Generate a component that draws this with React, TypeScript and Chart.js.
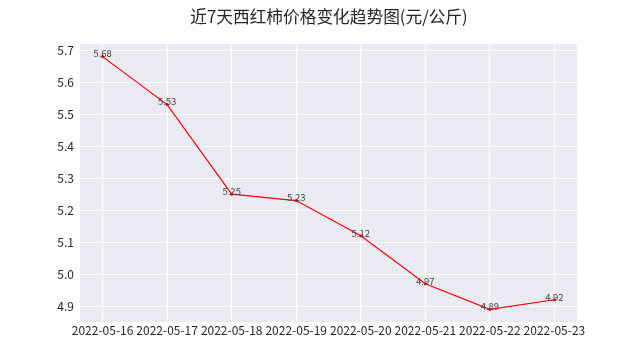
import React, { useEffect, useRef } from "react";
import { Chart, registerables } from "chart.js";

Chart.register(...registerables);

const TITLE = "近7天西红柿价格变化趋势图(元/公斤)";
const dates = ["2022-05-16", "2022-05-17", "2022-05-18", "2022-05-19", "2022-05-20", "2022-05-21", "2022-05-22", "2022-05-23"];
const prices = [5.68, 5.53, 5.25, 5.23, 5.12, 4.97, 4.89, 4.92];
const yTicks = [4.9, 5.0, 5.1, 5.2, 5.3, 5.4, 5.5, 5.6, 5.7];

const FONT = "'Noto Sans CJK SC', 'DejaVu Sans', sans-serif";

export default function App() {
  const ref = useRef<HTMLCanvasElement | null>(null);
  useEffect(() => {
    document.body.style.margin = "0";
    const ctx = ref.current!.getContext("2d")!;
    const lo = Math.min(...prices), hi = Math.max(...prices);
    const m = (hi - lo) * 0.05;
    const n = dates.length - 1;
    const bgPlugin = {
      id: "bg",
      beforeDraw(chart: any) {
        const { ctx, chartArea: a } = chart;
        ctx.save();
        ctx.fillStyle = "#ffffff";
        ctx.fillRect(0, 0, chart.width, chart.height);
        ctx.fillStyle = "#EAEAF2";
        ctx.fillRect(a.left, a.top, a.right - a.left, a.bottom - a.top);
        ctx.restore();
      },
      afterDraw(chart: any) {
        const { ctx } = chart;
        ctx.save();
        ctx.fillStyle = "#262626";
        ctx.font = `16.7px ${FONT}`;
        ctx.textAlign = "center";
        ctx.textBaseline = "middle";
        ctx.fillText(TITLE, 329, 17);
        const meta = chart.getDatasetMeta(0);
        ctx.font = `9.5px ${FONT}`;
        ctx.fillStyle = "#444444";
        ctx.textBaseline = "bottom";
        meta.data.forEach((pt: any, i: number) => {
          ctx.fillText(prices[i].toFixed(2), pt.x, pt.y + 2);
        });
        ctx.restore();
      },
    };
    const chart = new Chart(ctx, {
      type: "line",
      data: {
        datasets: [
          {
            data: prices.map((v, i) => ({ x: i, y: v })),
            borderColor: "#ff0000",
            backgroundColor: "#ff0000",
            borderWidth: 1.2,
            pointRadius: 1.6,
            pointBorderWidth: 0,
            tension: 0,
          },
        ],
      },
      options: {
        animation: false,
        responsive: false,
        layout: { padding: { top: 44, right: 64, left: 0, bottom: 0 } },
        plugins: { legend: { display: false }, tooltip: { enabled: false } },
        scales: {
          x: {
            type: "linear",
            min: -0.35,
            max: n + 0.35,
            afterBuildTicks: (s: any) => {
              s.ticks = dates.map((_, i) => ({ value: i }));
            },
            afterFit: (s: any) => {
              s.height = 39;
            },
            grid: { color: "#ffffff", lineWidth: 1, drawTicks: false },
            border: { display: false },
            ticks: {
              padding: 1,
              autoSkip: false,
              maxRotation: 0,
              color: "#262626",
              font: { family: FONT, size: 12 },
              callback: (v: any) => dates[Math.round(v)] ?? "",
            },
          },
          y: {
            min: lo - m,
            max: hi + m,
            afterBuildTicks: (s: any) => {
              s.ticks = yTicks.map((v) => ({ value: v }));
            },
            afterFit: (s: any) => {
              s.width = 80;
            },
            grid: { color: "#ffffff", lineWidth: 1, drawTicks: false },
            border: { display: false },
            ticks: {
              padding: 6,
              color: "#262626",
              font: { family: FONT, size: 12 },
              callback: (v: any) => Number(v).toFixed(1),
            },
          },
        },
      },
      plugins: [bgPlugin],
    } as any);
    return () => chart.destroy();
  }, []);
  return (
    <div style={{ position: "absolute", left: 0, top: 0, width: 641, height: 361 }}>
      <canvas ref={ref} width={641} height={361} style={{ width: 641, height: 361 }} />
    </div>
  );
}
